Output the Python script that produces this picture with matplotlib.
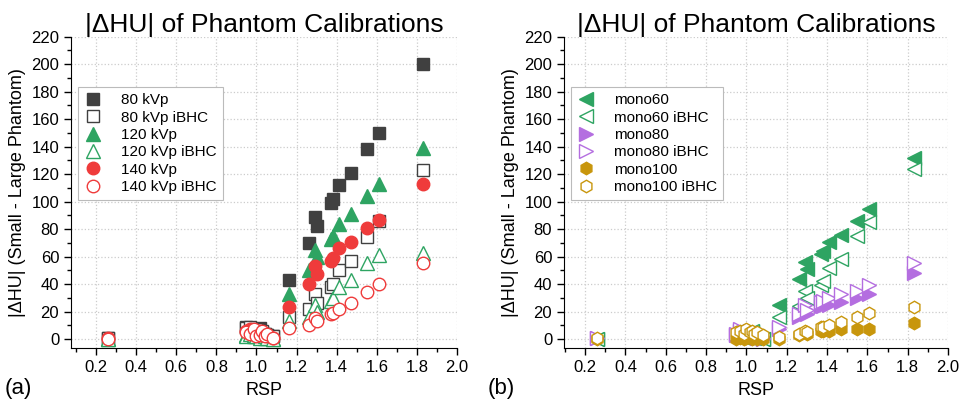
import matplotlib
matplotlib.use('Agg')
import matplotlib.pyplot as plt
from matplotlib.ticker import MultipleLocator

plt.rcParams['font.family'] = ['Liberation Sans', 'DejaVu Sans']

# RSP of the phantom inserts (shared by all series)
rsp = [0.26, 0.95, 0.97, 0.99, 1.00, 1.02, 1.03, 1.04, 1.05, 1.08,
       1.16, 1.26, 1.29, 1.30, 1.37, 1.38, 1.41, 1.47, 1.55, 1.61, 1.83]

# panel (a): polyenergetic scans
kvp80 = [1, 9, 8, 7, 6, 8, 5, 4, 3, 2, 43, 70, 89, 82, 99, 102, 112, 121, 138, 150, 200]
kvp80_ibhc = [1, 8, 9, 6, 7, 5, 6, 4, 3, 2, 16, 22, 33, 26, 38, 40, 50, 57, 74, 86, 123]
kvp120 = [0, 3, 5, 2, 4, 3, 2, 1, 2, 0, 33, 50, 65, 60, 73, 75, 84, 91, 104, 113, 139]
kvp120_ibhc = [0, 2, 4, 3, 2, 1, 3, 2, 1, 0, 13, 16, 25, 20, 28, 30, 38, 43, 55, 61, 63]
kvp140 = [1, 6, 7, 5, 4, 6, 3, 4, 2, 1, 23, 40, 53, 47, 57, 59, 66, 71, 81, 87, 113]
kvp140_ibhc = [0, 5, 4, 7, 2, 3, 6, 2, 4, 0.5, 8, 10, 15, 13, 18, 19, 22, 26, 34, 40, 55]

# panel (b): virtual monoenergetic images
mono60 = [0, 2, 4, 1, 3, 2, 5, 1, 2, 0, 25, 44, 56, 51, 62, 64, 71, 76, 86, 95, 132]
mono60_ibhc = [0, 3, 5, 2, 4, 1, 6, 2, 1, 0, 16, 24, 35, 30, 39, 42, 52, 58, 75, 85, 124]
mono80 = [1, 3, 6, 4, 2, 5, 3, 2, 1, 0, 7, 16, 22, 18, 24, 24, 25, 27, 30, 33, 48]
mono80_ibhc = [1, 4, 7, 5, 3, 6, 4, 3, 2, 1, 9, 18, 25, 21, 27, 28, 30, 33, 35, 39, 55]
mono100 = [0, 0, 1, 0, 1, 2, 0, 1, 0, 0, 0, 3, 5, 4, 6, 6, 6, 7, 7, 7, 12]
mono100_ibhc = [1, 5, 6, 4, 7, 5, 6, 4, 5, 3, 1.5, 3.6, 6, 5, 8.5, 9, 10, 12.6, 16, 18.7, 23.5]

gray = '#404040'
green = '#2ea462'
red = '#ef3b3b'
purple = '#b46ee0'
gold = '#c8960c'

series_a = [
    ('80 kVp', kvp80, 's', gray, True),
    ('80 kVp iBHC', kvp80_ibhc, 's', gray, False),
    ('120 kVp', kvp120, '^', green, True),
    ('120 kVp iBHC', kvp120_ibhc, '^', green, False),
    ('140 kVp', kvp140, 'o', red, True),
    ('140 kVp iBHC', kvp140_ibhc, 'o', red, False),
]
series_b = [
    ('mono60', mono60, '<', green, True),
    ('mono60 iBHC', mono60_ibhc, '<', green, False),
    ('mono80', mono80, '>', purple, True),
    ('mono80 iBHC', mono80_ibhc, '>', purple, False),
    ('mono100', mono100, 'h', gold, True),
    ('mono100 iBHC', mono100_ibhc, 'h', gold, False),
]

fig = plt.figure(figsize=(9.6, 4.08), dpi=100)
ax_a = fig.add_axes([0.074, 0.147, 0.402, 0.763])
ax_b = fig.add_axes([0.5875, 0.147, 0.40, 0.763])


def draw(ax, series, xmin):
    for label, vals, mk, col, filled in series:
        ms = 10 if mk in ('^', '<', '>') else 9
        ax.plot(rsp, vals, linestyle='none', marker=mk, markersize=ms,
                markerfacecolor=col if filled else 'white',
                markeredgecolor=col, markeredgewidth=1.0, label=label)
    ax.set_xlim(xmin, 2.0)
    ax.set_ylim(-6.5, 220)
    ax.xaxis.set_minor_locator(MultipleLocator(0.1))
    ax.yaxis.set_major_locator(MultipleLocator(20))
    ax.yaxis.set_minor_locator(MultipleLocator(10))
    ax.set_xticks([0.2, 0.4, 0.6, 0.8, 1.0, 1.2, 1.4, 1.6, 1.8, 2.0])
    ax.set_xticklabels(['0.2', '0.4', '0.6', '0.8', '1.0', '1.2', '1.4', '1.6', '1.8', '2.0'])
    ax.tick_params(which='major', direction='out', length=5, labelsize=12, width=1)
    ax.tick_params(which='minor', direction='out', length=3, width=1)
    for s in ('top', 'right'):
        ax.spines[s].set_visible(False)
    ax.grid(True, which='major', linestyle=':', color='#cccccc', linewidth=0.9)
    ax.set_axisbelow(True)
    ax.set_xlabel('RSP', fontsize=13, labelpad=5)
    ax.set_ylabel('|ΔHU| (Small - Large Phantom)', fontsize=13, labelpad=4)
    ax.set_title('|ΔHU| of Phantom Calibrations', fontsize=19, pad=2)
    leg = ax.legend(loc='upper left', bbox_to_anchor=(0.018, 0.838), borderaxespad=0,
                    fontsize=11, handlelength=1.2, handletextpad=1.2,
                    labelspacing=0.22, borderpad=0.4, fancybox=False,
                    edgecolor='#bbbbbb', framealpha=1)
    leg.get_frame().set_linewidth(0.8)


draw(ax_a, series_a, 0.075)
draw(ax_b, series_b, 0.095)

fig.text(0.005, 0.035, '(a)', fontsize=16)
fig.text(0.508, 0.035, '(b)', fontsize=16)

fig.savefig('out.png', dpi=100)
